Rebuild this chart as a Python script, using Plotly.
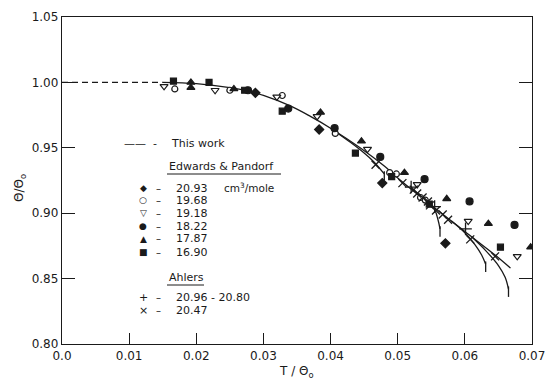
import plotly.graph_objects as go

# ---------------- data ----------------
# Edwards & Pandorf (molar volumes, cm^3/mole)
d2093_t = [0.0288, 0.0383, 0.0477, 0.0571]
d2093_y = [0.992, 0.964, 0.923, 0.877]

o1968_t = [0.0168, 0.0250, 0.0328, 0.0407, 0.0488, 0.0498, 0.0534, 0.0541]
o1968_y = [0.995, 0.994, 0.990, 0.961, 0.931, 0.930, 0.912, 0.910]

v1918_t = [0.0152, 0.0228, 0.0320, 0.0380, 0.0455, 0.0529, 0.0605, 0.0678]
v1918_y = [0.997, 0.994, 0.989, 0.974, 0.949, 0.922, 0.894, 0.867]

c1822_t = [0.0277, 0.0337, 0.0406, 0.0474, 0.0540, 0.0607, 0.0674]
c1822_y = [0.994, 0.980, 0.965, 0.943, 0.926, 0.909, 0.891]

t1787_t = [0.0192, 0.0192, 0.0256, 0.0385, 0.0446, 0.0510, 0.0573, 0.0635, 0.0698]
t1787_y = [1.000, 0.996, 0.995, 0.977, 0.955, 0.931, 0.911, 0.892, 0.874]

s1690_t = [0.0166, 0.0219, 0.0272, 0.0328, 0.0437, 0.0491, 0.0547, 0.0653]
s1690_y = [1.001, 1.000, 0.994, 0.978, 0.946, 0.928, 0.907, 0.874]

# Ahlers
p2096_t = [0.0520, 0.0555, 0.0601]
p2096_y = [0.920, 0.905, 0.888]

x2047_t = [0.0467, 0.0507, 0.0524, 0.0529, 0.0537, 0.0545, 0.0548, 0.0557, 0.0567, 0.0575, 0.0608, 0.0645]
x2047_y = [0.937, 0.923, 0.918, 0.915, 0.912, 0.909, 0.906, 0.902, 0.899, 0.895, 0.880, 0.867]

# "This work" curves
dash_t = [0.0, 0.005, 0.010, 0.015]
dash_y = [1.000, 1.000, 1.000, 1.000]

main_t = [0.015, 0.020, 0.025, 0.028, 0.030, 0.034, 0.037, 0.040, 0.0444, 0.048, 0.050, 0.055, 0.060, 0.065, 0.0668]
main_y = [1.000, 0.999, 0.996, 0.993, 0.990, 0.982, 0.974, 0.965, 0.950, 0.936, 0.927, 0.906, 0.886, 0.866, 0.858]

br1_t = [0.040, 0.043, 0.045, 0.0465, 0.0480]
br1_y = [0.965, 0.954, 0.946, 0.939, 0.930]

br2_t = [0.052, 0.054, 0.0553, 0.0560, 0.0563]
br2_y = [0.919, 0.911, 0.905, 0.895, 0.888]

br3_t = [0.058, 0.060, 0.0615, 0.0625, 0.0631]
br3_y = [0.894, 0.885, 0.876, 0.868, 0.861]

br4_t = [0.061, 0.063, 0.065, 0.066, 0.0665]
br4_y = [0.882, 0.872, 0.860, 0.851, 0.842]

# end bars of the branches (t, top, bottom)
bar_t = [0.0480, 0.0563, 0.0631, 0.0665]
bar_top = [0.932, 0.890, 0.863, 0.844]
bar_bot = [0.925, 0.882, 0.855, 0.836]

x_ticks = [0.0, 0.01, 0.02, 0.03, 0.04, 0.05, 0.06, 0.07]
x_ticktext = ["0.0", "0.01", "0.02", "0.03", "0.04", "0.05", "0.06", "0.07"]
y_ticks = [0.80, 0.85, 0.90, 0.95, 1.00, 1.05]
y_ticktext = ["0.80", "0.85", "0.90", "0.95", "1.00", "1.05"]

legend_vols = ["20.93", "19.68", "19.18", "18.22", "17.87", "16.90"]
legend_syms = ["◆", "○", "▽", "●", "▲", "■"]
ahlers_vols = ["20.96 - 20.80", "20.47"]
ahlers_syms = ["+", "×"]

# ---------------- figure ----------------
INK = "#1a1a1a"
FONT = "DejaVu Sans"
fig = go.Figure()

line_style = dict(color=INK, width=1.3)
fig.add_trace(go.Scatter(x=dash_t, y=dash_y, mode="lines",
                         line=dict(color=INK, width=1.2, dash="6px,4px")))
for tt, yy in [(main_t, main_y), (br1_t, br1_y), (br2_t, br2_y), (br3_t, br3_y), (br4_t, br4_y)]:
    fig.add_trace(go.Scatter(x=tt, y=yy, mode="lines", line=dict(shape="spline", **line_style)))

bx, by = [], []
for t, a, b in zip(bar_t, bar_top, bar_bot):
    bx += [t, t, None]
    by += [a, b, None]
fig.add_trace(go.Scatter(x=bx, y=by, mode="lines", line=line_style))

def pts(t, y, symbol, size, open_=False, lw=1.2):
    if open_:
        m = dict(symbol=symbol, size=size, color="white", line=dict(color=INK, width=lw))
    else:
        m = dict(symbol=symbol, size=size, color=INK, line=dict(color=INK, width=lw))
    fig.add_trace(go.Scatter(x=t, y=y, mode="markers", marker=m))

pts(d2093_t, d2093_y, "diamond", 7)
pts(o1968_t, o1968_y, "circle", 6, open_=True)
pts(v1918_t, v1918_y, "triangle-down", 7, open_=True)
pts(c1822_t, c1822_y, "circle", 7)
pts(t1787_t, t1787_y, "triangle-up", 7)
pts(s1690_t, s1690_y, "square", 6)
fig.add_trace(go.Scatter(x=p2096_t, y=p2096_y, mode="markers",
                         marker=dict(symbol="cross-thin", size=9, line=dict(color=INK, width=1.3))))
fig.add_trace(go.Scatter(x=x2047_t, y=x2047_y, mode="markers",
                         marker=dict(symbol="x-thin", size=8, line=dict(color=INK, width=1.3))))

# pixel -> paper helpers for the hand-drawn legend block
L, R, T, B = 62, 532, 17, 344
def px(x):
    return (x - L) / (R - L)
def py(y):
    return (B - y) / (B - T)

ann = []
def text(x, y, s, size=11, xanchor="left"):
    ann.append(dict(x=px(x), y=py(y), xref="paper", yref="paper", text=s, showarrow=False,
                    xanchor=xanchor, yanchor="middle", font=dict(family=FONT, size=size, color=INK)))

text(122, 143, "——  -", 11)
text(169, 143, "This work")
text(167, 166, "Edwards & Pandorf")
rows = [188, 200, 213, 226, 239, 252]
for yy, sym, vol in zip(rows, legend_syms, legend_vols):
    text(143, yy, sym, 9, xanchor="center")
    text(158, yy, "–", 10, xanchor="center")
    text(174, yy, vol)
text(222, 187, "cm<sup>3</sup>/mole", 10.5)
text(167, 277, "Ahlers")
for yy, sym, vol in zip([297, 310], ahlers_syms, ahlers_vols):
    text(143, yy, sym, 11, xanchor="center")
    text(158, yy, "–", 10, xanchor="center")
    text(174, yy, vol)

# axis titles
ann.append(dict(x=px(296), y=py(372), xref="paper", yref="paper", text="T / Θ<sub>o</sub>",
                showarrow=False, xanchor="center", yanchor="middle",
                font=dict(family=FONT, size=12, color=INK)))
ann.append(dict(x=px(20), y=py(188), xref="paper", yref="paper", text="Θ/Θ<sub>o</sub>",
                showarrow=False, xanchor="center", yanchor="middle", textangle=-90,
                font=dict(family=FONT, size=12, color=INK)))

shapes = [
    dict(type="line", xref="paper", yref="paper", x0=px(167), x1=px(281), y0=py(174), y1=py(174),
         line=dict(color=INK, width=1)),
    dict(type="line", xref="paper", yref="paper", x0=px(167), x1=px(204), y0=py(285), y1=py(285),
         line=dict(color=INK, width=1)),
]

fig.update_layout(
    width=549, height=379,
    margin=dict(l=L, r=549 - R, t=T, b=379 - B),
    paper_bgcolor="white", plot_bgcolor="white",
    showlegend=False,
    annotations=ann, shapes=shapes,
    font=dict(family=FONT, size=12, color=INK),
    xaxis=dict(range=[0, 0.07], tickvals=x_ticks, ticktext=x_ticktext, ticks="inside", ticklen=11,
               tickwidth=1.2, tickcolor=INK, showline=True, linecolor=INK, linewidth=1.4,
               mirror=True, showgrid=False, zeroline=False, automargin=False,
               tickfont=dict(family=FONT, size=12, color=INK)),
    yaxis=dict(range=[0.80, 1.05], tickvals=y_ticks, ticktext=y_ticktext, ticks="inside", ticklen=13,
               tickwidth=1.2, tickcolor=INK, showline=True, linecolor=INK, linewidth=1.4,
               mirror="ticks", showgrid=False, zeroline=False, automargin=False,
               tickfont=dict(family=FONT, size=12, color=INK)),
)

fig.write_html("out.html")
